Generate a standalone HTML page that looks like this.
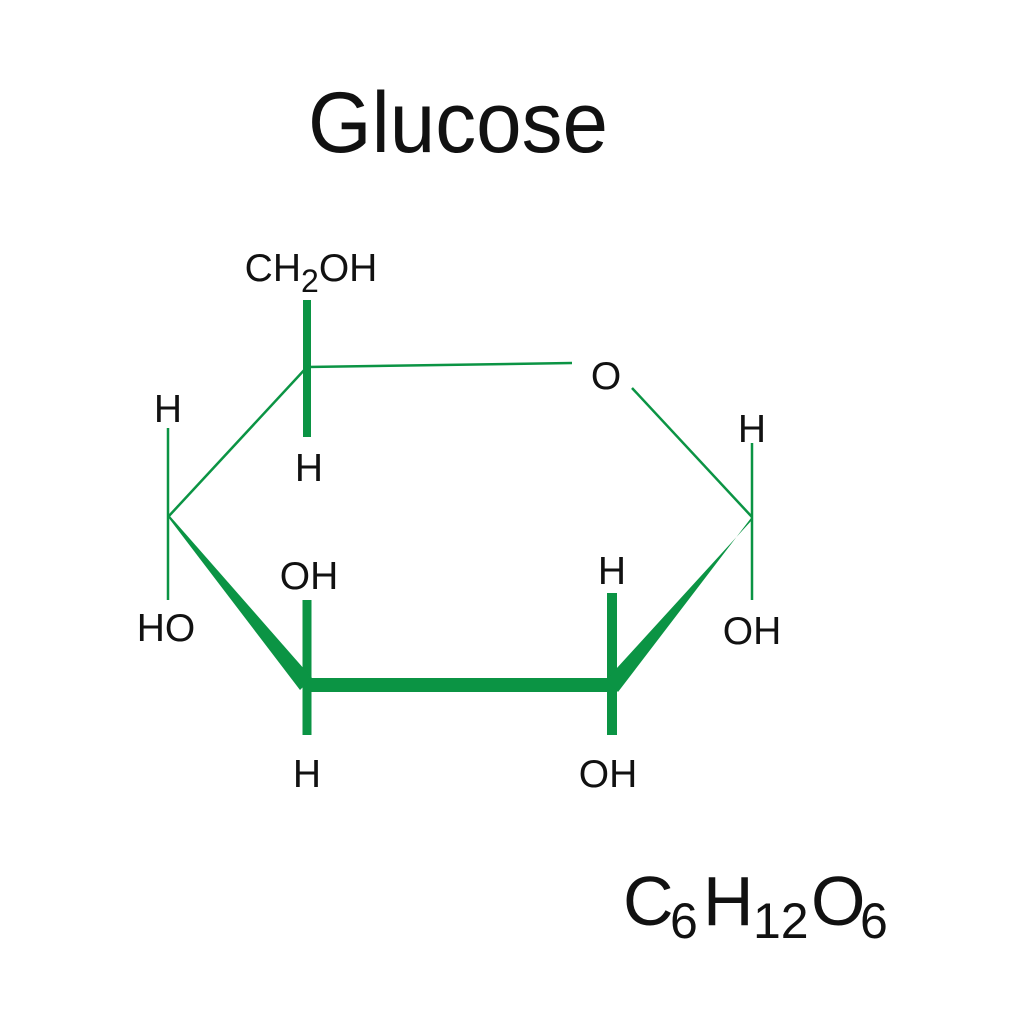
<!DOCTYPE html>
<html><head><meta charset="utf-8"><style>
html,body{margin:0;padding:0;background:#fff;}
svg{display:block;}
text{font-family:"Liberation Sans",sans-serif;fill:#111;}
</style></head><body>
<svg width="1024" height="1024" viewBox="0 0 1024 1024" xmlns="http://www.w3.org/2000/svg">
<rect width="1024" height="1024" fill="#fff"/>
<text x="308" y="152" font-size="86" textLength="300" lengthAdjust="spacingAndGlyphs">Glucose</text>

<g stroke="#0b9444" fill="none">
  <line x1="307" y1="300" x2="307" y2="437" stroke-width="8"/>
  <line x1="307" y1="367" x2="572" y2="363" stroke-width="2.5"/>
  <line x1="632" y1="388" x2="752" y2="517" stroke-width="2.5"/>
  <line x1="752" y1="443" x2="752" y2="600" stroke-width="2.5"/>
  <line x1="168" y1="517" x2="307" y2="367" stroke-width="2.5"/>
  <line x1="168" y1="428" x2="168" y2="600" stroke-width="2.5"/>
  <line x1="612" y1="593" x2="612" y2="735" stroke-width="10"/>
  <line x1="307" y1="600" x2="307" y2="735" stroke-width="9"/>
  <line x1="303" y1="685" x2="616" y2="685" stroke-width="14"/>
</g>
<g fill="#0b9444">
  <polygon points="168,517 169,515 312,678 300,690"/>
  <polygon points="752,520 751,518 618,692 606,680"/>
</g>

<g font-size="39" text-anchor="middle">
  <text x="311" y="281">CH<tspan font-size="32" dy="11">2</tspan><tspan dy="-11">OH</tspan></text>
  <text x="606" y="389">O</text>
  <text x="168" y="422">H</text>
  <text x="309" y="481">H</text>
  <text x="752" y="442">H</text>
  <text x="166" y="641">HO</text>
  <text x="309" y="589">OH</text>
  <text x="612" y="584">H</text>
  <text x="752" y="644">OH</text>
  <text x="307" y="787">H</text>
  <text x="608" y="787">OH</text>
</g>

<g font-size="70">
  <text x="623" y="925">C</text>
  <text x="670" y="938" font-size="50">6</text>
  <text x="703" y="925">H</text>
  <text x="753" y="938" font-size="50">12</text>
  <text x="811" y="925">O</text>
  <text x="860" y="938" font-size="50">6</text>
</g>
</svg>
</body></html>
